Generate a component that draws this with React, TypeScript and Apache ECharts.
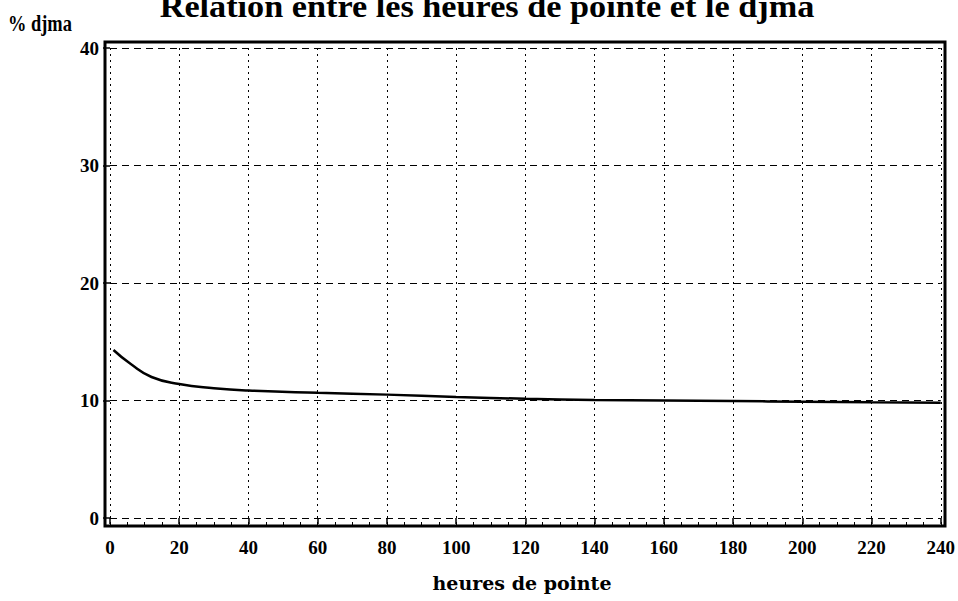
import React, { useEffect, useRef } from "react";
import * as echarts from "echarts";

const titleText = "Relation entre les heures de pointe et le djma";
const yAxisTitle = "% djma";
const xAxisTitle = "heures de pointe";
const hours = [1, 6, 12, 20, 30, 40, 60, 80, 100, 120, 140, 160, 180, 200, 220, 240];
const pct = [14.3, 13.1, 12.0, 11.4, 11.05, 10.85, 10.65, 10.5, 10.3, 10.15, 10.05, 10.0, 9.95, 9.9, 9.85, 9.8];

const FONT = "'Liberation Serif', 'Times New Roman', serif";

export default function App() {
  const ref = useRef<HTMLDivElement>(null);
  useEffect(() => {
    document.body.style.margin = "0";
    const chart = echarts.init(ref.current!, null, { renderer: "svg" });
    const data = hours.map((h, i) => [h, pct[i]]);
    chart.setOption({
      animation: false,
      backgroundColor: "#ffffff",
      grid: { left: 110, right: 17, top: 48, bottom: 83 },
      xAxis: [
        {
          type: "value",
          min: 0,
          max: 240,
          interval: 20,
          offset: 8,
          axisLine: { show: false },
          axisTick: { show: true, length: 6, lineStyle: { color: "#000", width: 1.5 } },
          axisLabel: { margin: 12, color: "#000", fontFamily: FONT, fontWeight: "bold", fontSize: 19 },
          splitLine: { show: true, lineStyle: { color: "#000", width: 1, type: [2, 4] } },
        },
        {
          type: "value",
          min: 0,
          max: 240,
          interval: 5,
          offset: 8,
          position: "bottom",
          axisLine: { show: false },
          axisTick: { show: true, inside: true, length: 4, lineStyle: { color: "#000", width: 1 } },
          axisLabel: { show: false },
          splitLine: { show: false },
        },
      ],
      yAxis: {
        type: "value",
        min: 0,
        max: 40,
        interval: 10,
        offset: 5,
        axisLine: { show: false },
        axisTick: { show: true, length: 7, lineStyle: { color: "#000", width: 1.5 } },
        axisLabel: { margin: 6, color: "#000", fontFamily: FONT, fontWeight: "bold", fontSize: 19 },
        splitLine: { show: true, lineStyle: { color: "#000", width: 1, type: [7, 5] } },
      },
      graphic: [
        {
          type: "rect",
          shape: { x: 105, y: 42, width: 840, height: 484 },
          style: { fill: "none", stroke: "#000", lineWidth: 3 },
          z: 10,
        },
        {
          type: "text",
          x: 487,
          y: 6,
          scaleX: 1.07,
          style: {
            text: titleText,
            font: `bold 32px ${FONT}`,
            fill: "#000",
            align: "center",
            verticalAlign: "middle",
          },
        },
        {
          type: "text",
          x: 8,
          y: 23,
          scaleX: 0.8,
          style: {
            text: yAxisTitle,
            font: `bold 23px ${FONT}`,
            fill: "#000",
            align: "left",
            verticalAlign: "middle",
          },
        },
        {
          type: "text",
          x: 522,
          y: 583,
          style: {
            text: xAxisTitle,
            font: `bold 19px 'DejaVu Serif', serif`,
            fill: "#000",
            align: "center",
            verticalAlign: "middle",
          },
        },
      ],
      series: [
        {
          type: "line",
          data,
          xAxisIndex: 0,
          showSymbol: false,
          smooth: 0.5,
          lineStyle: { color: "#000", width: 2.5 },
          z: 5,
        },
      ],
    });
    return () => chart.dispose();
  }, []);
  return <div ref={ref} style={{ width: 958, height: 601 }} />;
}
